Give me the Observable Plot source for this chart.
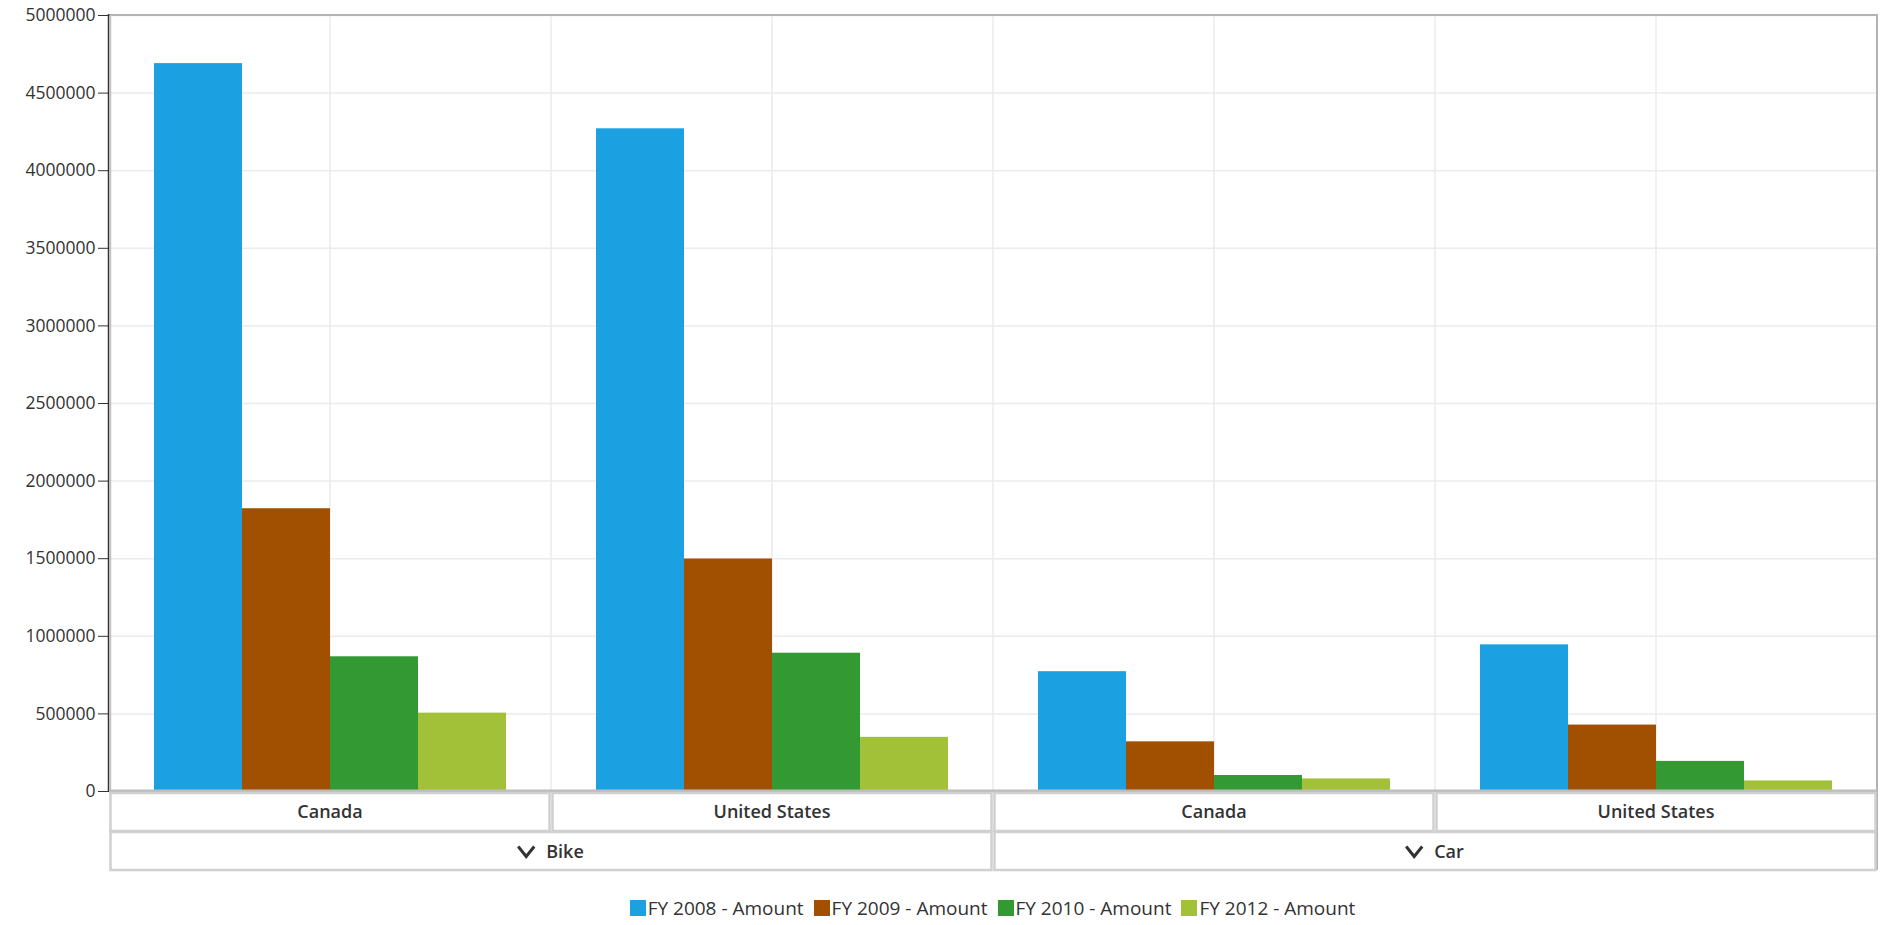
<!DOCTYPE html>
<html>
<head>
<meta charset="utf-8">
<script src="https://cdn.jsdelivr.net/npm/d3@7"></script>
<script src="https://cdn.jsdelivr.net/npm/@observablehq/plot@0.6"></script>
<style>
  html, body { margin: 0; padding: 0; background: #fff; }
  #legend { display: flex; justify-content: center; align-items: center; padding-left: 108px; padding-right: 10px; margin-top: 20px;
            font-family: "Open Sans", "Noto Sans", sans-serif; font-size: 19px; color: #333; }
  #legend .item { display: flex; align-items: center; margin: 0 5px; }
  #legend .sw { width: 16px; height: 16px; margin-right: 2px; display: inline-block; }
</style>
</head>
<body>
<div id="chart"></div>
<div id="legend"></div>
<script>
// ---- data ----
const products = ["Bike", "Bike", "Car", "Car"];
const countries = ["Canada", "United States", "Canada", "United States"];
const series = ["FY 2008 - Amount", "FY 2009 - Amount", "FY 2010 - Amount", "FY 2012 - Amount"];
const fy2008 = [4690000, 4270000, 772000, 945000];
const fy2009 = [1822000, 1498000, 320000, 428000];
const fy2010 = [868000, 891000, 103000, 194000];
const fy2012 = [505000, 349000, 81000, 68000];
const colors = ["#1ba1e2", "#a05000", "#339933", "#a2c139"];
const yTicks = [0, 500000, 1000000, 1500000, 2000000, 2500000, 3000000, 3500000, 4000000, 4500000, 5000000];

(function () {
const keys = products.map((p, i) => p + "|" + countries[i]);
const seriesValues = [fy2008, fy2009, fy2010, fy2012];
const rows = [];
keys.forEach((k, i) => series.forEach((s, j) => rows.push({key: k, series: s, value: seriesValues[j][i]})));

const font = "'Open Sans', 'Noto Sans', sans-serif";

const chart = Plot.plot({
  width: 1887,
  height: 875,
  marginLeft: 108,
  marginRight: 10,
  marginTop: 15,
  marginBottom: 84,
  style: {fontFamily: font, fontSize: "17px", color: "#333", background: "white"},
  fx: {domain: keys, padding: 0, axis: null},
  x: {domain: series, paddingInner: 0, paddingOuter: 0.5, axis: null},
  y: {domain: [0, 5000000]},
  color: {domain: series, range: colors},
  marks: [
    Plot.gridY(yTicks, {stroke: "#ebebeb", strokeOpacity: 1, strokeWidth: 1.5}),
    Plot.barY(rows, {fx: "key", x: "series", y: "value", fill: "series", inset: 0}),
    Plot.axisY(yTicks, {tickFormat: d3.format("d"), tickSize: 11, tickPadding: 3, fontSize: 17.5, stroke: "#333", fill: "#333", label: null})
  ]
});
document.getElementById("chart").appendChild(chart);

// ---- decorations derived from the Plot scales ----
const svg = d3.select(chart);
const fxS = chart.scale("fx");
const yS = chart.scale("y");
const bw = fxS.bandwidth;
const fxPos = k => fxS.apply ? fxS.apply(k) : fxS.range[0] + keys.indexOf(k) * fxS.step;
const yTop = yS.apply(5000000), base = yS.apply(0);
const left = fxPos(keys[0]), right = fxPos(keys[keys.length - 1]) + bw;
const row1 = base + 40, row2 = base + 79;

// vertical gridlines behind bars
const vg = svg.insert("g", "g[aria-label=bar]").attr("stroke", "#ebebeb").attr("stroke-width", 1.5);
keys.forEach((k, i) => {
  const cx = fxPos(k) + bw / 2;
  vg.append("line").attr("x1", cx).attr("x2", cx).attr("y1", yTop).attr("y2", base);
  if (i > 0) vg.append("line").attr("x1", fxPos(k)).attr("x2", fxPos(k)).attr("y1", yTop).attr("y2", base);
});

const deco = svg.append("g");
// frame
deco.append("line").attr("x1", left).attr("x2", right).attr("y1", yTop).attr("y2", yTop).attr("stroke", "#b3b3b3").attr("stroke-width", 2);
deco.append("line").attr("x1", right).attr("x2", right).attr("y1", yTop - 1).attr("y2", row2).attr("stroke", "#b3b3b3").attr("stroke-width", 2);
deco.append("line").attr("x1", left + 1.5).attr("x2", left + 1.5).attr("y1", yTop).attr("y2", row2).attr("stroke", "#c4c4c4").attr("stroke-width", 1.5);
deco.append("line").attr("x1", left - 0.5).attr("x2", left - 0.5).attr("y1", yTop - 1).attr("y2", base + 1).attr("stroke", "#333").attr("stroke-width", 1.5);
deco.append("line").attr("x1", left).attr("x2", right).attr("y1", base).attr("y2", base).attr("stroke", "#bdbdbd").attr("stroke-width", 3);

// row 1: countries
keys.forEach((k, i) => {
  const x0 = fxPos(k);
  deco.append("rect").attr("x", x0 + 1.5).attr("y", base + 2).attr("width", bw - 3).attr("height", row1 - base - 2)
    .attr("fill", "white").attr("stroke", "#d0d0d0").attr("stroke-width", 2.5);
  deco.append("text").attr("x", x0 + bw / 2).attr("y", (base + row1) / 2 + 1).attr("dy", "0.35em")
    .attr("text-anchor", "middle").attr("font-family", font).attr("font-size", 18).attr("font-weight", 600)
    .attr("fill", "#333").text(countries[i]);
});

// row 2: products
const uniqueProducts = Array.from(new Set(products));
uniqueProducts.forEach(p => {
  const ks = keys.filter((k, i) => products[i] === p);
  const x0 = fxPos(ks[0]), x1 = fxPos(ks[ks.length - 1]) + bw;
  deco.append("rect").attr("x", x0 + 1.5).attr("y", row1 + 1).attr("width", x1 - x0 - 3).attr("height", row2 - row1 - 1)
    .attr("fill", "white").attr("stroke", "#d0d0d0").attr("stroke-width", 2.5);
  const cy = (row1 + row2) / 2 + 1;
  const t = deco.append("text").attr("y", cy).attr("dy", "0.35em").attr("text-anchor", "start")
    .attr("font-family", font).attr("font-size", 18).attr("font-weight", 600).attr("fill", "#333").text(p);
  const tw = t.node().getComputedTextLength();
  const W = 16 + 12 + tw;
  const sx = (x0 + x1) / 2 - W / 2;
  t.attr("x", sx + 28);
  deco.append("path").attr("d", `M${sx},${cy - 5} L${sx + 8},${cy + 5} L${sx + 16},${cy - 5}`)
    .attr("fill", "none").attr("stroke", "#333").attr("stroke-width", 3).attr("stroke-linejoin", "miter");
});

// legend
const legend = d3.select("#legend");
series.forEach((s, i) => {
  const it = legend.append("div").attr("class", "item");
  it.append("span").attr("class", "sw").style("background", colors[i]);
  it.append("span").text(s);
});
})();
</script>
</body>
</html>
